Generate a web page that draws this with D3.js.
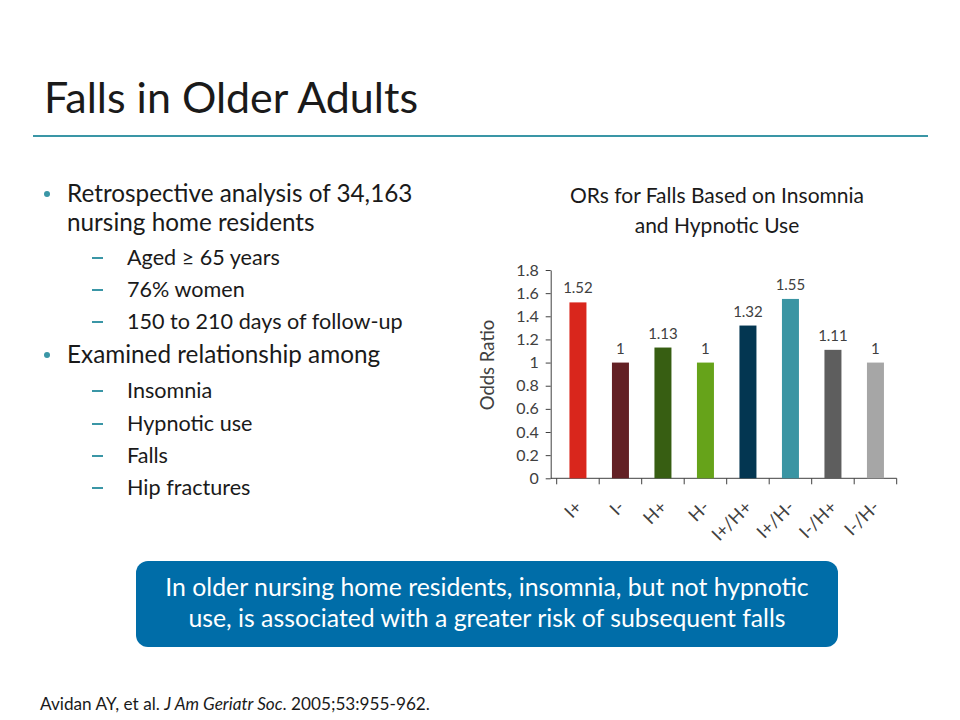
<!DOCTYPE html>
<html><head><meta charset="utf-8">
<script src="https://cdn.jsdelivr.net/npm/d3@7"></script>
<style>body{margin:0;background:#fff}svg{display:block}text{font-family:Lato,"Open Sans",sans-serif}</style>
</head><body>
<svg id="c" width="960" height="720"></svg>
<script>
const categories = ["I+","I-","H+","H-","I+/H+","I+/H-","I-/H+","I-/H-"];
const oddsRatios = [1.52,1,1.13,1,1.32,1.55,1.11,1];
const barColors = ["#D9261C","#632024","#375E12","#66A31A","#033651","#3A95A3","#5E5E5E","#A6A6A6"];
const yTicks = [0,0.2,0.4,0.6,0.8,1,1.2,1.4,1.6,1.8];
const bullets = [
  {level:0, lines:["Retrospective analysis of 34,163","nursing home residents"]},
  {level:1, lines:["Aged \u2265 65 years"]},
  {level:1, lines:["76% women"]},
  {level:1, lines:["150 to 210 days of follow-up"]},
  {level:0, lines:["Examined relationship among"]},
  {level:1, lines:["Insomnia"]},
  {level:1, lines:["Hypnotic use"]},
  {level:1, lines:["Falls"]},
  {level:1, lines:["Hip fractures"]}
];

const svg = d3.select("#c");
const teal = "#3A96A6";

// Title
svg.append("text").attr("x",44).attr("y",113).attr("font-size",43).attr("fill","#1a1a1a").text("Falls in Older Adults");
svg.append("line").attr("x1",33).attr("x2",928).attr("y1",136).attr("y2",136).attr("stroke",teal).attr("stroke-width",2);

// Bullets
const baselines = [[202,231],[265],[297],[329],[363],[398],[431],[463],[495]];
bullets.forEach((b,i)=>{
  const ys = baselines[i];
  if(b.level===0){
    svg.append("circle").attr("cx",47).attr("cy",ys[0]-8).attr("r",3).attr("fill",teal);
    b.lines.forEach((l,j)=>svg.append("text").attr("x",67).attr("y",ys[j]).attr("font-size",24.3).attr("fill","#1a1a1a").text(l));
  } else {
    svg.append("line").attr("x1",92).attr("x2",103).attr("y1",ys[0]-7).attr("y2",ys[0]-7).attr("stroke",teal).attr("stroke-width",2);
    svg.append("text").attr("x",127).attr("y",ys[0]).attr("font-size",21.6).attr("fill","#1a1a1a").text(b.lines[0]);
  }
});

// Chart
const x = d3.scaleBand().domain(categories).range([556.7,896.7]).paddingInner(0.6).paddingOuter(0.3);
const y = d3.scaleLinear().domain([0,1.8]).range([478.3,270]);

svg.append("text").attr("x",717).attr("y",203).attr("text-anchor","middle").attr("font-size",21).attr("fill","#1a1a1a").text("ORs for Falls Based on Insomnia");
svg.append("text").attr("x",717).attr("y",233).attr("text-anchor","middle").attr("font-size",21).attr("fill","#1a1a1a").text("and Hypnotic Use");

const yAxis = svg.append("g").attr("transform","translate(550.7,0)")
  .call(d3.axisLeft(y).tickValues(yTicks).tickFormat(d=>d3.format("")(+d.toFixed(1))).tickSize(5).tickSizeOuter(0));
yAxis.select(".domain").attr("stroke","#404040");
yAxis.selectAll(".tick line").attr("stroke","#404040");
yAxis.selectAll("text").attr("font-size",16).attr("fill","#404040").attr("font-family","Lato,sans-serif").attr("x",-12);

svg.append("text").attr("transform","translate(494,365) rotate(-90)").attr("text-anchor","middle").attr("font-size",18.5).attr("fill","#404040").text("Odds Ratio");

// x axis
svg.append("line").attr("x1",550.7).attr("x2",x.range()[1]).attr("y1",y(0)).attr("y2",y(0)).attr("stroke","#404040");
const boundaries = d3.range(categories.length+1).map(i=>x.range()[0]+i*x.step());
svg.selectAll(".xt").data(boundaries).join("line").attr("x1",d=>d).attr("x2",d=>d).attr("y1",y(0)).attr("y2",y(0)+6).attr("stroke","#404040");

svg.selectAll(".bar").data(categories).join("rect")
  .attr("x",d=>x(d)).attr("width",x.bandwidth())
  .attr("y",(d,i)=>y(oddsRatios[i])).attr("height",(d,i)=>y(0)-y(oddsRatios[i]))
  .attr("fill",(d,i)=>barColors[i]);

svg.selectAll(".vl").data(categories).join("text")
  .attr("x",d=>x(d)+x.bandwidth()/2).attr("y",(d,i)=>y(oddsRatios[i])-9)
  .attr("text-anchor","middle").attr("font-size",15).attr("fill","#404040")
  .text((d,i)=>oddsRatios[i]);

svg.selectAll(".xl").data(categories).join("text")
  .attr("transform",d=>`translate(${x(d)+x.bandwidth()/2+5},${y(0)+30}) rotate(-45)`)
  .attr("text-anchor","end").attr("font-size",18).attr("fill","#404040")
  .text(d=>d);

// Box
svg.append("rect").attr("x",136).attr("y",561).attr("width",702).attr("height",86).attr("rx",12).attr("fill","#006DA8");
svg.append("text").attr("x",487).attr("y",596).attr("text-anchor","middle").attr("font-size",24.8).attr("fill","#fff").text("In older nursing home residents, insomnia, but not hypnotic");
svg.append("text").attr("x",487).attr("y",627).attr("text-anchor","middle").attr("font-size",24.8).attr("fill","#fff").text("use, is associated with a greater risk of subsequent falls");

// Citation
const cit = svg.append("text").attr("x",40).attr("y",710).attr("font-size",17.2).attr("fill","#1a1a1a");
cit.append("tspan").text("Avidan AY, et al. ");
cit.append("tspan").attr("font-style","italic").text("J Am Geriatr Soc");
cit.append("tspan").text(". 2005;53:955-962.");
</script>
</body></html>
